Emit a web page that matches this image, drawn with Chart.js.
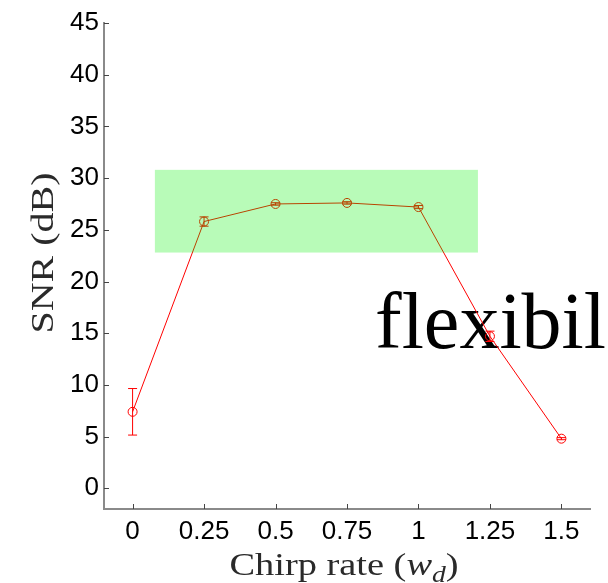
<!DOCTYPE html>
<html>
<head>
<meta charset="utf-8">
<script src="https://cdn.jsdelivr.net/npm/chart.js@4.4.0/dist/chart.umd.min.js"></script>
<style>
html,body{margin:0;padding:0;background:#fff;}
#wrap{width:608px;height:583px;}
</style>
</head>
<body>
<div id="wrap"><canvas id="snrChart" width="608" height="583"></canvas></div>
<script>
// SNR against chirp rate, mean and spread per setting
var chirpRate = [0, 0.25, 0.5, 0.75, 1, 1.25, 1.5];
var snrMean = [7.4, 25.8, 27.5, 27.6, 27.2, 14.7, 4.8];
var snrErr = [2.25, 0.45, 0.12, 0.12, 0.15, 0.5, 0.1];

var xTicks = [0, 0.25, 0.5, 0.75, 1, 1.25, 1.5];
var yTicks = [0, 5, 10, 15, 20, 25, 30, 35, 40, 45];

// highlighted region
var bandX = [0.078, 1.208];
var bandY = [22.8, 30.8];

var overlayWord = "flexibil";

var serif = '"Liberation Serif", "Times New Roman", serif';

// draws a run of text pieces (font, text, dy) centred on x, stretched sideways by sx
function drawRun(ctx, parts, x, y, sx){
    var w = 0;
    parts.forEach(function(p){ ctx.font = p.font; p.w = ctx.measureText(p.text).width; w += p.w; });
    ctx.save();
    ctx.translate(x, y);
    ctx.scale(sx, 1);
    var cx = -w / 2;
    ctx.textBaseline = "alphabetic";
    ctx.textAlign = "left";
    parts.forEach(function(p){
        ctx.font = p.font;
        ctx.fillText(p.text, cx, p.dy || 0);
        cx += p.w;
    });
    ctx.restore();
}

var extras = {
    id: "extras",
    beforeDatasetsDraw: function(chart){
        var ctx = chart.ctx;
        ctx.save();
        ctx.fillStyle = "#000";
        ctx.font = "80px " + serif;
        ctx.textBaseline = "alphabetic";
        ctx.fillText(overlayWord, 375, 348);
        ctx.restore();
    },
    afterDatasetsDraw: function(chart){
        var ctx = chart.ctx, xs = chart.scales.x, ys = chart.scales.y;
        ctx.save();
        // error bars
        ctx.strokeStyle = "#ff0000";
        ctx.lineWidth = 1;
        for (var i = 0; i < chirpRate.length; i++){
            var px = xs.getPixelForValue(chirpRate[i]);
            var t = ys.getPixelForValue(snrMean[i] + snrErr[i]);
            var b = ys.getPixelForValue(snrMean[i] - snrErr[i]);
            ctx.beginPath();
            ctx.moveTo(px, t); ctx.lineTo(px, b);
            ctx.moveTo(px - 4.5, t); ctx.lineTo(px + 4.5, t);
            ctx.moveTo(px - 4.5, b); ctx.lineTo(px + 4.5, b);
            ctx.stroke();
        }
        // translucent green band over the curve
        var x0 = xs.getPixelForValue(bandX[0]), x1 = xs.getPixelForValue(bandX[1]);
        var y0 = ys.getPixelForValue(bandY[1]), y1 = ys.getPixelForValue(bandY[0]);
        ctx.fillStyle = "rgba(0,240,0,0.28)";
        ctx.fillRect(x0, y0, x1 - x0, y1 - y0);
        ctx.restore();
    },
    afterDraw: function(chart){
        var ctx = chart.ctx, xs = chart.scales.x, ys = chart.scales.y, a = chart.chartArea;
        ctx.save();
        // inward tick marks
        ctx.strokeStyle = "#444";
        ctx.lineWidth = 1;
        ctx.beginPath();
        xTicks.forEach(function(v){
            var px = Math.round(xs.getPixelForValue(v)) + 0.5;
            ctx.moveTo(px, a.bottom); ctx.lineTo(px, a.bottom - 5);
        });
        yTicks.forEach(function(v){
            var py = Math.round(ys.getPixelForValue(v)) + 0.5;
            ctx.moveTo(a.left, py); ctx.lineTo(a.left + 5, py);
        });
        ctx.stroke();

        // axis titles
        ctx.fillStyle = "#2a2a2a";
        drawRun(ctx, [
            {font: "32px " + serif, text: "Chirp rate ("},
            {font: "italic 32px " + serif, text: "w"},
            {font: "italic 23px " + serif, text: "d", dy: 7},
            {font: "32px " + serif, text: ")"}
        ], (a.left + a.right) / 2 - 3, 575, 1.2);

        ctx.save();
        ctx.translate(53, 253);
        ctx.rotate(-Math.PI / 2);
        drawRun(ctx, [{font: "32px " + serif, text: "SNR (dB)"}], 0, 0, 1.25);
        ctx.restore();
        ctx.restore();
    }
};

new Chart("snrChart", {
    type: "line",
    data: {
        datasets: [{
            data: chirpRate.map(function(x, i){ return {x: x, y: snrMean[i]}; }),
            borderColor: "#ff0000",
            borderWidth: 1,
            pointRadius: 4.5,
            pointBorderColor: "#ff0000",
            pointBackgroundColor: "rgba(0,0,0,0)",
            pointBorderWidth: 1,
            tension: 0,
            fill: false,
            clip: false
        }]
    },
    options: {
        responsive: false,
        devicePixelRatio: 1,
        animation: false,
        layout: {padding: {left: 0, right: 18, top: 23, bottom: 0}},
        plugins: {legend: {display: false}, tooltip: {enabled: false}},
        scales: {
            x: {
                type: "linear",
                min: -0.1, max: 1.6,
                afterBuildTicks: function(s){ s.ticks = xTicks.map(function(v){ return {value: v}; }); },
                afterFit: function(s){ s.height = 74; },
                grid: {display: true, drawOnChartArea: false, drawTicks: false},
                border: {display: true, color: "#8a8a8a", width: 2},
                ticks: {
                    autoSkip: false, maxRotation: 0, padding: 7, color: "#000",
                    font: {family: '"Liberation Sans", Arial, sans-serif', size: 26},
                    callback: function(v){ return String(v); }
                }
            },
            y: {
                min: -2, max: 45,
                afterBuildTicks: function(s){ s.ticks = yTicks.map(function(v){ return {value: v}; }); },
                afterFit: function(s){ s.width = 104; },
                grid: {display: true, drawOnChartArea: false, drawTicks: false},
                border: {display: true, color: "#8a8a8a", width: 2},
                ticks: {
                    padding: 5, color: "#000",
                    font: {family: '"Liberation Sans", Arial, sans-serif', size: 26},
                    callback: function(v){ return String(v); }
                }
            }
        }
    },
    plugins: [extras]
});
</script>
</body>
</html>
